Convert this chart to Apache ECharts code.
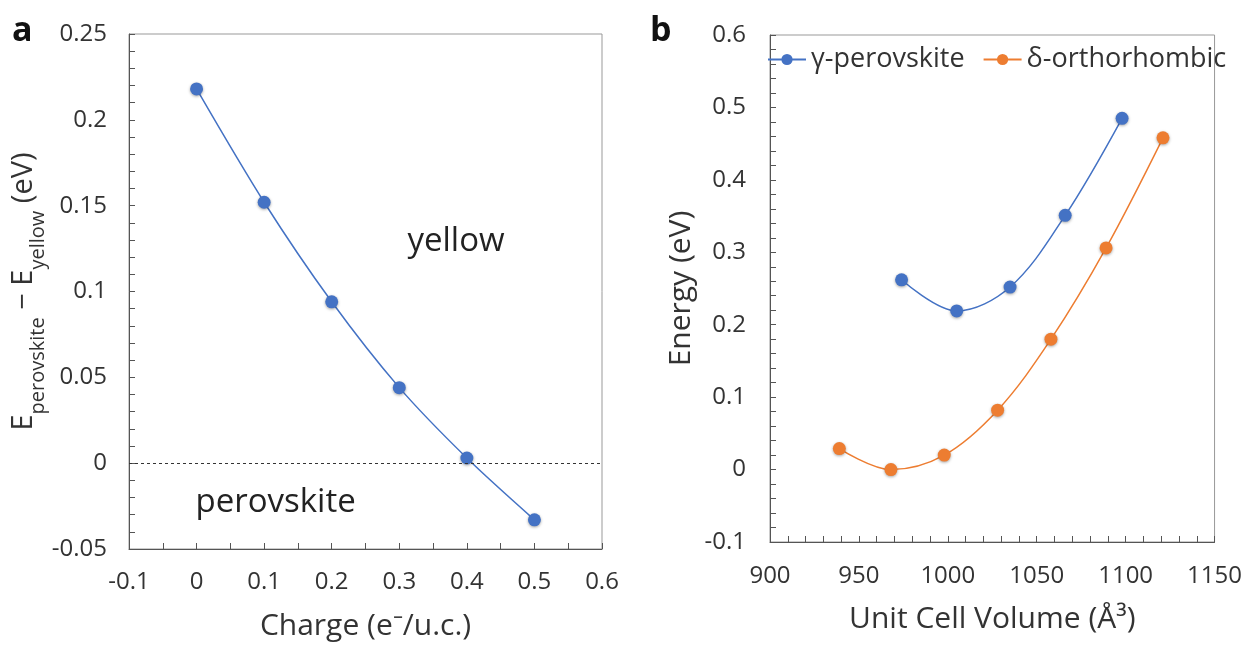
<!DOCTYPE html>
<html>
<head>
    <meta charset="utf-8">
    <title>perovskite energies</title>
    <script src="https://cdn.jsdelivr.net/npm/echarts@6/dist/echarts.min.js"></script>
    <style>
        html, body { margin: 0; padding: 0; background: #fff; }
        #main { width: 1245px; height: 646px; }
    </style>
</head>
<body>
<div id="main"></div>
<script>
    // panel a
    var chargeX = [0, 0.1, 0.2, 0.3, 0.4, 0.5];
    var energyDiff = [0.218, 0.152, 0.094, 0.044, 0.003, -0.033];
    // panel b
    var gammaVol = [974, 1005, 1035, 1066, 1098];
    var gammaE = [0.262, 0.219, 0.252, 0.351, 0.485];
    var deltaVol = [939, 968, 998, 1028, 1058, 1089, 1121];
    var deltaE = [0.029, 0.000, 0.020, 0.082, 0.180, 0.306, 0.458];

    var FONT = '"Open Sans", sans-serif';
    var txt = '#333';
    var axisCol = '#555';

    function pairs(xs, ys) {
        return xs.map(function (x, i) { return [x, ys[i]]; });
    }
    function fmt(v) { return String(+v.toFixed(2)); }

    function valueAxis(o) {
        return {
            type: 'value',
            gridIndex: o.grid,
            min: o.min, max: o.max, interval: o.interval,
            name: o.name,
            nameLocation: 'middle',
            nameGap: o.nameGap,
            nameTextStyle: o.nameTextStyle || { fontFamily: FONT, fontSize: 30, color: txt },
            axisLine: { show: true, onZero: false, lineStyle: { color: axisCol, width: 1 } },
            axisTick: { show: true, inside: true, length: 6, lineStyle: { color: axisCol } },
            minorTick: { show: true, splitNumber: o.minor, length: 6, lineStyle: { color: axisCol } },
            splitLine: { show: false },
            axisLabel: { fontFamily: FONT, fontSize: 24, color: txt, margin: o.margin, formatter: fmt }
        };
    }

    var chart = echarts.init(document.getElementById('main'));
    var option = {
        animation: false,
        backgroundColor: '#fff',
        grid: [
            { left: 129, top: 34, width: 473, height: 518, show: true, borderColor: '#999', borderWidth: 1 },
            { left: 770, top: 35, width: 445, height: 507, show: true, borderColor: '#999', borderWidth: 1 }
        ],
        graphic: [
            { type: 'text', left: 12, top: 14, style: { text: 'a', font: 'bold 34px ' + FONT, fill: '#111' } },
            { type: 'text', left: 650, top: 14, style: { text: 'b', font: 'bold 34px ' + FONT, fill: '#111' } }
        ],
        legend: {
            left: 762, top: 41, width: 480,
            orient: 'horizontal',
            itemWidth: 38, itemHeight: 14, itemGap: 18,
            textStyle: { fontFamily: FONT, fontSize: 27, color: txt },
            data: ['γ-perovskite', 'δ-orthorhombic']
        },
        xAxis: [
            valueAxis({ grid: 0, min: -0.1, max: 0.6, interval: 0.1, minor: 2, margin: 21,
                name: 'Charge (e⁻/u.c.)', nameGap: 62 }),
            valueAxis({ grid: 1, min: 900, max: 1150, interval: 50, minor: 5, margin: 22,
                name: 'Unit Cell Volume (Å³)', nameGap: 62 })
        ],
        yAxis: [
            valueAxis({ grid: 0, min: -0.05, max: 0.25, interval: 0.05, minor: 5, margin: 22,
                name: '{e|E}{s|perovskite}{e| − E}{s|yellow}{e| (eV)}', nameGap: 74,
                nameTextStyle: {
                    fontFamily: FONT, color: txt,
                    rich: {
                        e: { fontFamily: FONT, fontSize: 29, color: txt, lineHeight: 36, verticalAlign: 'middle' },
                        s: { fontFamily: FONT, fontSize: 20, color: txt, lineHeight: 48, verticalAlign: 'bottom' }
                    }
                } }),
            valueAxis({ grid: 1, min: -0.1, max: 0.6, interval: 0.1, minor: 5, margin: 24,
                name: 'Energy (eV)', nameGap: 74 })
        ],
        series: [
            {
                name: 'charge',
                type: 'line',
                xAxisIndex: 0, yAxisIndex: 0,
                data: pairs(chargeX, energyDiff),
                smooth: 0.3,
                symbol: 'circle', symbolSize: 13,
                lineStyle: { color: '#4472C4', width: 1.5 },
                itemStyle: { color: '#4472C4', shadowBlur: 3, shadowColor: 'rgba(0,0,0,0.35)', shadowOffsetY: 1 },
                markLine: {
                    silent: true,
                    symbol: ['none', 'none'],
                    label: { show: false },
                    lineStyle: { color: '#333', type: [3, 3], width: 1 },
                    data: [{ yAxis: 0 }]
                },
                markPoint: {
                    silent: true,
                    symbol: 'circle', symbolSize: 0,
                    label: { show: true, position: 'inside', fontFamily: FONT, fontSize: 33, color: '#222' },
                    data: [
                        { coord: [0.384, 0.129], label: { formatter: 'yellow' } },
                        { coord: [0.117, -0.023], label: { formatter: 'perovskite' } }
                    ]
                }
            },
            {
                name: 'γ-perovskite',
                type: 'line',
                xAxisIndex: 1, yAxisIndex: 1,
                data: pairs(gammaVol, gammaE),
                smooth: 0.35,
                symbol: 'circle', symbolSize: 13,
                lineStyle: { color: '#4472C4', width: 1.5 },
                itemStyle: { color: '#4472C4', shadowBlur: 3, shadowColor: 'rgba(0,0,0,0.35)', shadowOffsetY: 1 }
            },
            {
                name: 'δ-orthorhombic',
                type: 'line',
                xAxisIndex: 1, yAxisIndex: 1,
                data: pairs(deltaVol, deltaE),
                smooth: 0.35,
                symbol: 'circle', symbolSize: 13,
                lineStyle: { color: '#ED7D31', width: 1.5 },
                itemStyle: { color: '#ED7D31', shadowBlur: 3, shadowColor: 'rgba(0,0,0,0.35)', shadowOffsetY: 1 }
            }
        ]
    };
    chart.setOption(option);
</script>
</body>
</html>
